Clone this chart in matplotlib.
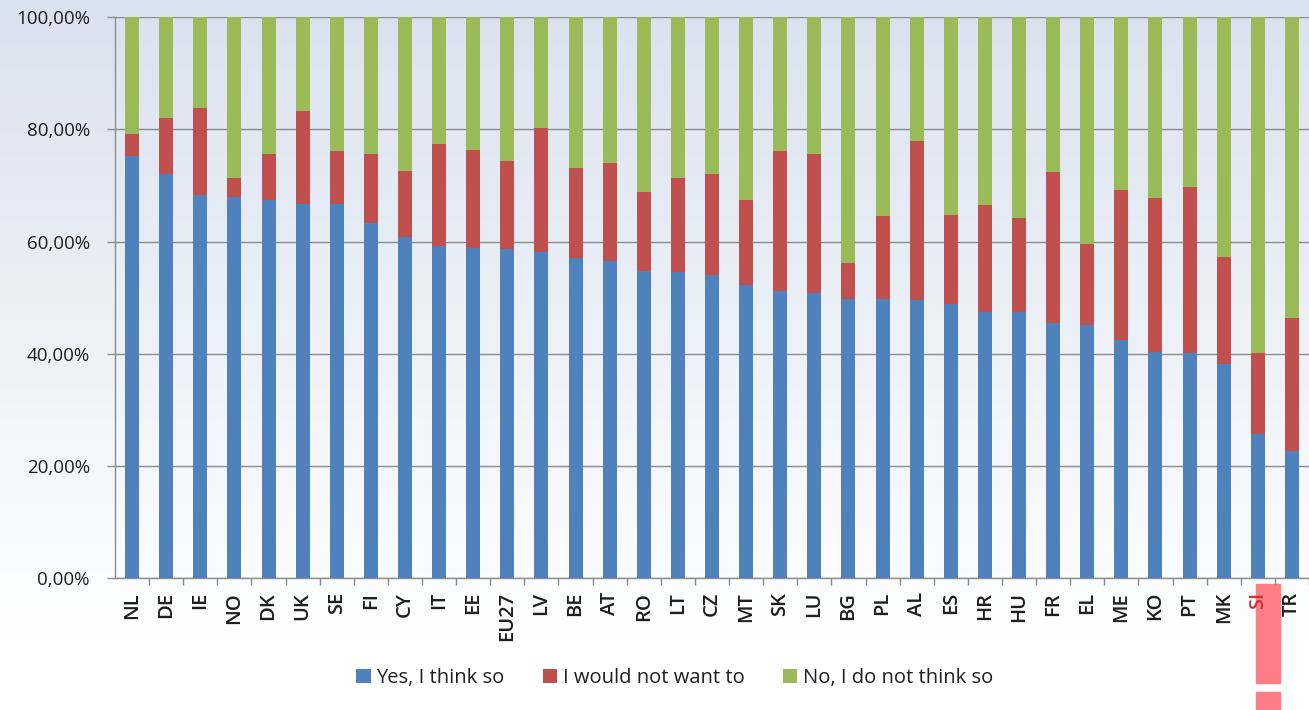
import numpy as np
import matplotlib
matplotlib.use("Agg")
import matplotlib.pyplot as plt
from matplotlib.patches import Rectangle, Patch
from matplotlib.ticker import FixedLocator, FuncFormatter

categories = ["NL", "DE", "IE", "NO", "DK", "UK", "SE", "FI", "CY", "IT", "EE", "EU27",
              "LV", "BE", "AT", "RO", "LT", "CZ", "MT", "SK", "LU", "BG", "PL", "AL",
              "ES", "HR", "HU", "FR", "EL", "ME", "KO", "PT", "MK", "SI", "TR"]
yes_think = [75.3, 72.1, 68.3, 67.9, 67.5, 66.7, 66.7, 63.3, 60.9, 59.2, 58.9, 58.7,
             58.1, 57.0, 56.6, 54.7, 54.6, 54.1, 52.2, 51.2, 50.9, 49.8, 49.7, 49.6,
             48.8, 47.4, 47.4, 45.5, 45.1, 42.4, 40.3, 40.2, 38.1, 25.6, 22.7]
would_not = [3.9, 9.9, 15.6, 3.4, 8.2, 16.6, 9.5, 12.4, 11.6, 18.2, 17.4, 15.7,
             22.1, 16.2, 17.5, 14.2, 16.8, 18.0, 15.2, 25.0, 24.7, 6.4, 14.8, 28.4,
             16.0, 19.2, 16.8, 26.9, 14.4, 26.8, 27.4, 29.5, 19.1, 14.6, 23.7]
no_think = [20.8, 18.0, 16.1, 28.7, 24.3, 16.7, 23.8, 24.3, 27.5, 22.6, 23.7, 25.6,
            19.8, 26.8, 25.9, 31.1, 28.6, 27.9, 32.6, 23.8, 24.4, 43.8, 35.5, 22.0,
            35.2, 33.4, 35.8, 27.6, 40.5, 30.8, 32.3, 30.3, 42.8, 59.8, 53.6]
series_names = ["Yes, I think so", "I would not want to", "No, I do not think so"]
y_ticks = [0, 20, 40, 60, 80, 100]
highlight = "SI"

colors = ["#4F81BD", "#C0504D", "#9BBB59"]
plt.rcParams["font.family"] = ["Open Sans", "DejaVu Sans"]

W, H = 1309, 710
fig = plt.figure(figsize=(W / 100, H / 100), dpi=100)

# background gradient (and label highlight) in a back layer
bg = fig.add_axes([0, 0, 1, 1], zorder=-10)
top = np.array([217, 226, 239]) / 255.0
bot = np.array([255, 255, 255]) / 255.0
n = 400
t = np.clip(np.linspace(0, 1, n) / 0.9, 0, 1)[:, None]
grad = top[None, :] * (1 - t) + bot[None, :] * t
bg.imshow(grad[:, None, :], aspect="auto", extent=[0, 1, 0, 1], origin="upper", zorder=0)
bg.set_xlim(0, 1)
bg.set_ylim(0, 1)
bg.set_axis_off()

left_px, zero_px, top_px = 115, 578, 17.3
step = 34.42

hi = categories.index(highlight)
cx = left_px + (hi + 0.5) * step
bg.add_patch(Rectangle(((cx - 11.7) / W, (H - 682.7) / H), 23.3 / W, 98.7 / H,
                       transform=fig.transFigure, color="#FF7D85", zorder=2))
bg.add_patch(Rectangle(((cx - 11.7) / W, 0), 23.3 / W, 18.3 / H,
                       transform=fig.transFigure, color="#FF7D85", zorder=2))

ax = fig.add_axes([left_px / W, (H - zero_px) / H, (W - left_px) / W, (zero_px - top_px) / H])
ax.set_facecolor("none")

x = np.arange(len(categories))
bw = 0.41
y1 = np.array(yes_think)
y2 = np.array(would_not)
y3 = np.array(no_think)
ax.bar(x, y1, bw, color=colors[0], zorder=3, label=series_names[0])
ax.bar(x, y2, bw, bottom=y1, color=colors[1], zorder=3, label=series_names[1])
ax.bar(x, y3, bw, bottom=y1 + y2, color=colors[2], zorder=3, label=series_names[2])

ax.set_xlim(-0.5, -0.5 + (W - left_px) / step)
ax.set_ylim(0, 100)

ax.yaxis.set_major_locator(FixedLocator(y_ticks))
ax.yaxis.set_major_formatter(FuncFormatter(lambda v, p: f"{v:.2f}".replace(".", ",") + "%"))
ax.grid(axis="y", color="#8c8c8c", linewidth=1.0, zorder=0)
ax.set_axisbelow(True)

ax.set_xticks(x)
ax.set_xticklabels(categories, rotation=90, fontsize=14.5, fontweight="semibold", color="#1e1e1e")
ax.set_xticks(np.arange(len(categories)) + 0.5, minor=True)
ax.tick_params(axis="x", which="major", length=0, pad=10)
ax.tick_params(axis="x", which="minor", length=5, color="#8c8c8c", width=1)
ax.tick_params(axis="y", which="major", length=6, color="#8c8c8c", width=1, pad=12,
               labelsize=13.5, labelcolor="#1e1e1e")

for s in ["top", "right"]:
    ax.spines[s].set_visible(False)
for s in ["left", "bottom"]:
    ax.spines[s].set_color("#8c8c8c")
    ax.spines[s].set_linewidth(1.0)

for lbl in ax.get_xticklabels():
    if lbl.get_text() == highlight:
        lbl.set_color("#C8323C")

handles = [Patch(facecolor=c, edgecolor="none") for c in colors]
fig.legend(handles, series_names, loc="center", bbox_to_anchor=(675 / W, 32 / H),
           ncol=3, frameon=False, fontsize=14.5, handlelength=0.7, handleheight=0.7,
           handletextpad=0.3, columnspacing=1.9, labelcolor="#1e1e1e")

fig.savefig("out.png", dpi=100)
